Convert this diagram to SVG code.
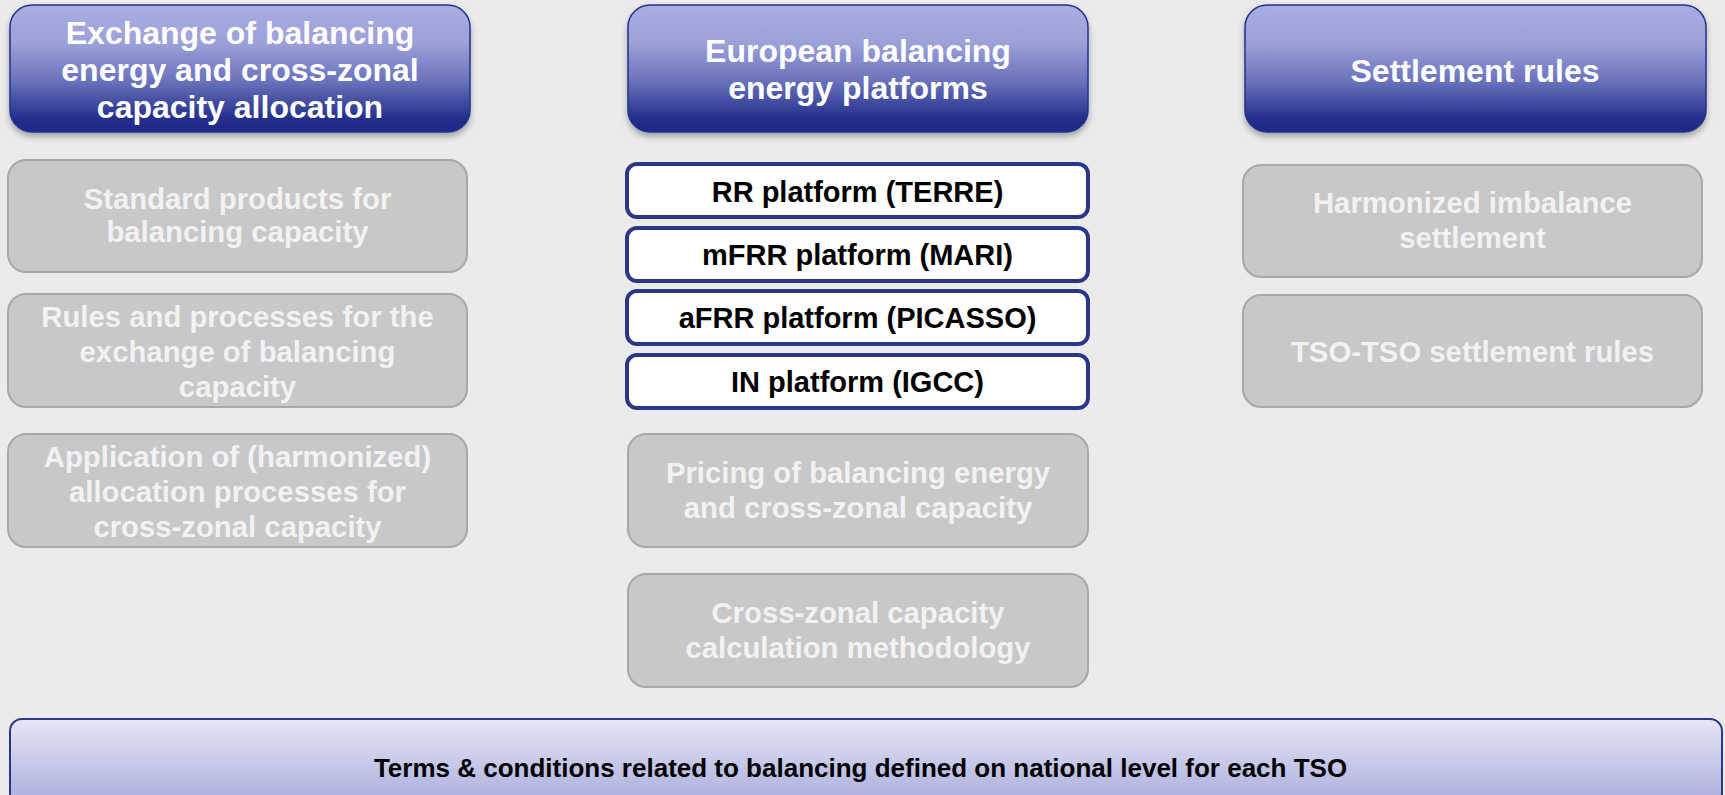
<svg xmlns="http://www.w3.org/2000/svg" width="1725" height="795" viewBox="0 0 1725 795">
<style>
text{font-family:"Liberation Sans",Arial,sans-serif;font-weight:bold;text-anchor:middle}
.hdr rect{fill:url(#hg);stroke:#24318c;stroke-width:1.5;filter:url(#sh)}
.hdr text{fill:#ffffff;font-size:32px}
.gray rect{fill:#c8c8c8;stroke:#a8a8a8;stroke-width:2}
.gray text{fill:#f2f2f2;font-size:29.3px}
.plat rect{fill:#ffffff;stroke:#2b3786;stroke-width:4}
.plat text{fill:#000000;font-size:29px}
.bar rect{fill:url(#bg);stroke:#2b3786;stroke-width:2}
.bar text{fill:#000000;font-size:26px}
</style>
<defs>
<linearGradient id="hg" x1="0" y1="0" x2="0" y2="1">
<stop offset="0" stop-color="#a9ade2"/>
<stop offset="0.3" stop-color="#9ca1d8"/>
<stop offset="0.6" stop-color="#6a72bc"/>
<stop offset="0.9" stop-color="#222e8b"/>
<stop offset="1" stop-color="#1e2a88"/>
</linearGradient>
<linearGradient id="bg" x1="0" y1="0" x2="0" y2="1">
<stop offset="0" stop-color="#e6e7f5"/>
<stop offset="0.8" stop-color="#adb0de"/>
<stop offset="1" stop-color="#a5a9db"/>
</linearGradient>
<filter id="sh" x="-5%" y="-5%" width="110%" height="120%">
<feDropShadow dx="0" dy="4" stdDeviation="3" flood-color="#000" flood-opacity="0.3"/>
</filter>
</defs>
<rect x="0" y="0" width="1725" height="795" fill="#ebebeb"/>

<g id="h1" class="hdr"><rect x="10" y="5" width="460" height="127" rx="22"/>
<text x="240" y="44">Exchange of balancing</text><text x="240" y="81">energy and cross-zonal</text><text x="240" y="118">capacity allocation</text></g>
<g id="h2" class="hdr"><rect x="628" y="5" width="460" height="127" rx="22"/>
<text x="858" y="62">European balancing</text><text x="858" y="99">energy platforms</text></g>
<g id="h3" class="hdr"><rect x="1245" y="5" width="461" height="127" rx="22"/>
<text x="1475" y="82">Settlement rules</text></g>

<g id="g1" class="gray"><rect x="8" y="160" width="459" height="112" rx="18"/>
<text x="237.5" y="209">Standard products for</text><text x="237.5" y="242">balancing capacity</text></g>
<g id="g2" class="gray"><rect x="8" y="294" width="459" height="113" rx="18"/>
<text x="237.5" y="327">Rules and processes for the</text><text x="237.5" y="362">exchange of balancing</text><text x="237.5" y="397">capacity</text></g>
<g id="g3" class="gray"><rect x="8" y="434" width="459" height="113" rx="18"/>
<text x="237.5" y="467">Application of (harmonized)</text><text x="237.5" y="502">allocation processes for</text><text x="237.5" y="537">cross-zonal capacity</text></g>

<g id="p1" class="plat"><rect x="627" y="164" width="461" height="53" rx="10"/><text x="857.5" y="202">RR platform (TERRE)</text></g>
<g id="p2" class="plat"><rect x="627" y="228" width="461" height="53" rx="10"/><text x="857.5" y="265">mFRR platform (MARI)</text></g>
<g id="p3" class="plat"><rect x="627" y="291" width="461" height="53" rx="10"/><text x="857.5" y="328">aFRR platform (PICASSO)</text></g>
<g id="p4" class="plat"><rect x="627" y="355" width="461" height="53" rx="10"/><text x="857.5" y="392">IN platform (IGCC)</text></g>

<g id="g4" class="gray"><rect x="628" y="434" width="460" height="113" rx="18"/>
<text x="858" y="483">Pricing of balancing energy</text><text x="858" y="518">and cross-zonal capacity</text></g>
<g id="g5" class="gray"><rect x="628" y="574" width="460" height="113" rx="18"/>
<text x="858" y="623">Cross-zonal capacity</text><text x="858" y="658">calculation methodology</text></g>

<g id="g6" class="gray"><rect x="1243" y="165" width="459" height="112" rx="18"/>
<text x="1472.5" y="213">Harmonized imbalance</text><text x="1472.5" y="248">settlement</text></g>
<g id="g7" class="gray"><rect x="1243" y="295" width="459" height="112" rx="18"/>
<text x="1472.5" y="362">TSO-TSO settlement rules</text></g>

<g id="bottom" class="bar"><rect x="10" y="719" width="1712" height="100" rx="12"/>
<text x="860.5" y="777">Terms &amp; conditions related to balancing defined on national level for each TSO</text></g>

<g id="connectors"></g>
</svg>
